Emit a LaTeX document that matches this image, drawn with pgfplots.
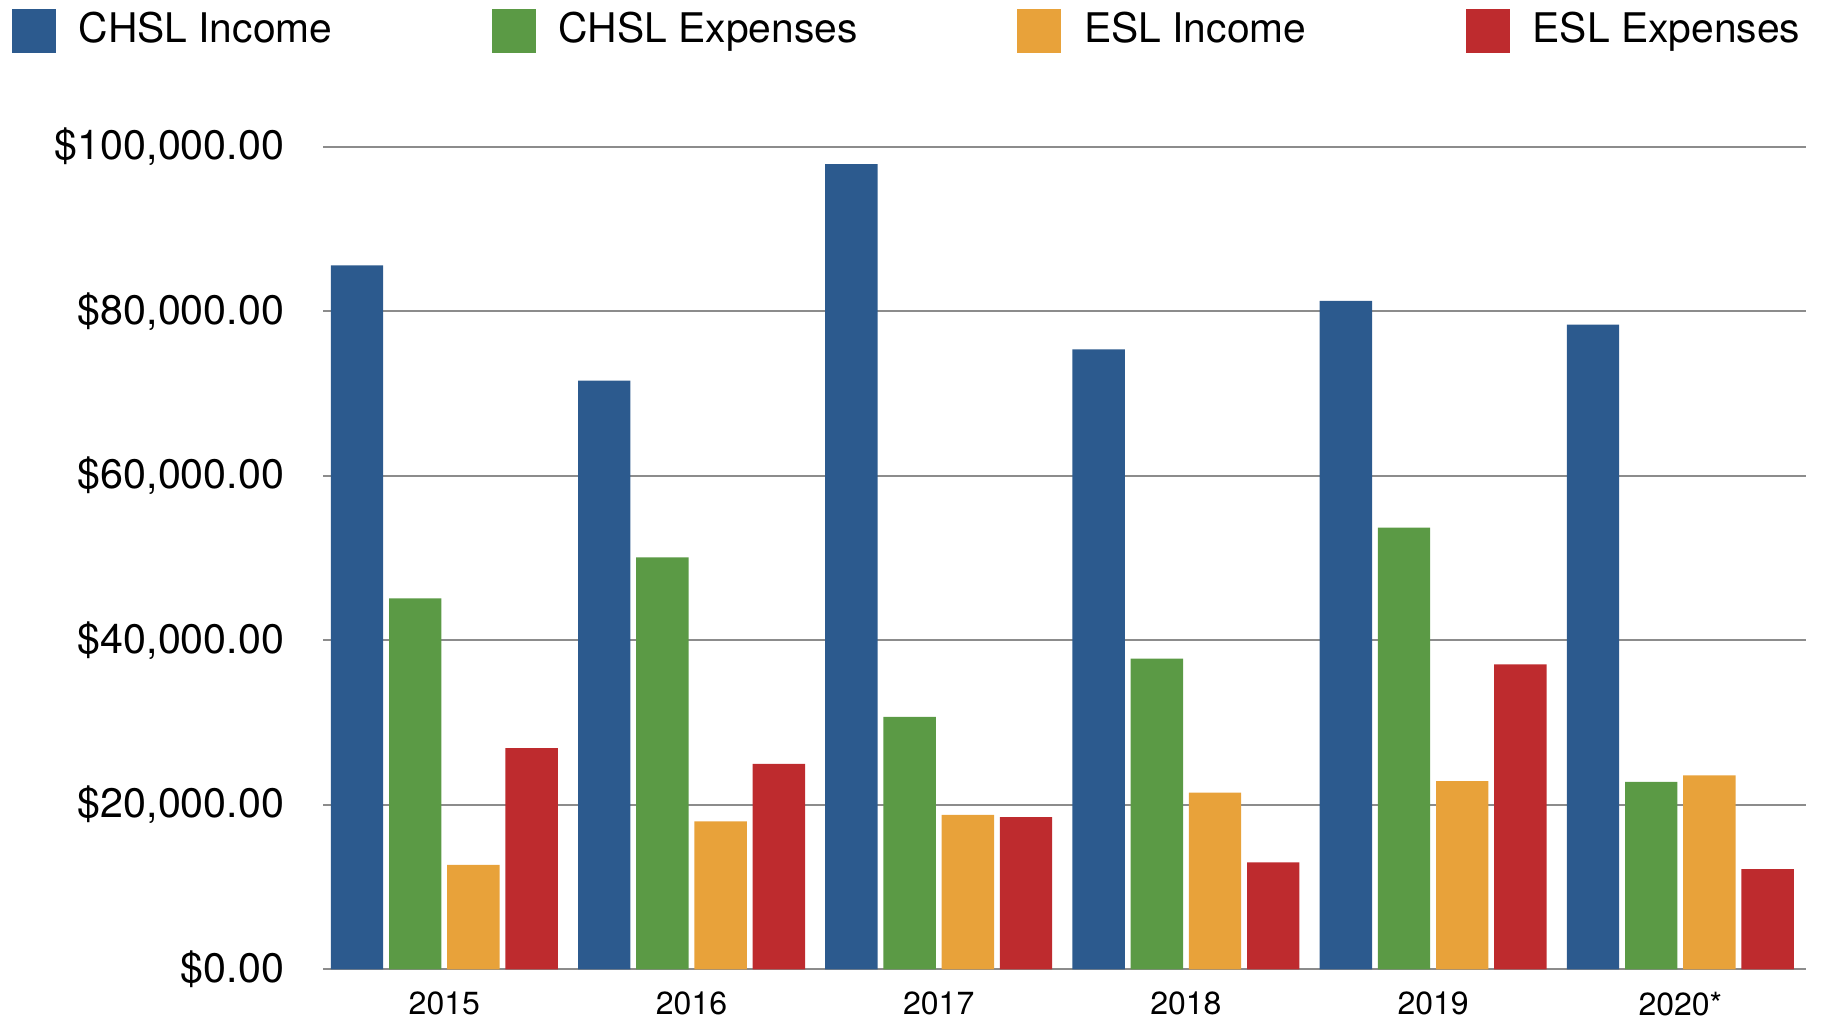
\documentclass[border=0pt]{standalone}
\usepackage{pgfplots}
\pgfplotsset{compat=1.18}
\usepackage{fontspec}
\setmainfont{TeX Gyre Heros}

\definecolor{chslinc}{RGB}{44,90,142}
\definecolor{chslexp}{RGB}{91,154,69}
\definecolor{eslinc}{RGB}{232,162,58}
\definecolor{eslexp}{RGB}{190,43,46}

\pgfplotsset{
  sqlegend/.style={legend image code/.code={\fill[##1] (0pt,-5.5pt) rectangle (11pt,5.5pt);}},
}

\begin{document}
\begin{tikzpicture}
\begin{axis}[
  name=main,
  scale only axis,
  width=370.8pt, height=205.6pt,
  ybar=1.45pt, bar width=13.1pt,
  xmin=-0.49, xmax=5.51,
  ymin=0, ymax=100000,
  enlargelimits=false,
  xtick={0,...,5},
  xticklabels={2015,2016,2017,2018,2019,2020*},
  ytick={0,20000,40000,60000,80000,100000},
  yticklabels={\$0.00,{\$20,000.00},{\$40,000.00},{\$60,000.00},{\$80,000.00},{\$100,000.00}},
  scaled y ticks=false,
  axis line style={draw=none},
  tick style={draw=none},
  ymajorgrids,
  major grid style={black!45, line width=0.5pt},
  extra y ticks={0},
  extra y tick labels={},
  extra y tick style={grid style={black!65, line width=0.8pt}},
  yticklabel style={anchor=east, inner sep=0pt, xshift=-9.6pt, font=\fontsize{10.3}{12}\selectfont},
  xticklabel style={anchor=north, inner sep=0pt, yshift=-1.2pt, font=\fontsize{8}{10}\selectfont},
  legend style={at={(-0.210,1.1415)}, anchor=west, draw=none, fill=none,
    inner sep=0pt, outer sep=0pt, legend columns=4,
    nodes={inner sep=0pt},
    /tikz/every odd column/.append style={column sep=5.8pt},
    /tikz/every even column/.append style={column sep=39.8pt},
    font=\fontsize{10.2}{12}\selectfont},
]
\addplot[fill=chslinc, draw=none, sqlegend] coordinates {(0,85600) (1,71600) (2,97900) (3,75400) (4,81300) (5,78400)};
\addplot[fill=chslexp, draw=none, sqlegend] coordinates {(0,45100) (1,50100) (2,30700) (3,37800) (4,53700) (5,22800)};
\addplot[fill=eslinc, draw=none, sqlegend] coordinates {(0,12700) (1,18000) (2,18800) (3,21500) (4,22900) (5,23600)};
\addplot[fill=eslexp, draw=none, sqlegend] coordinates {(0,26900) (1,25000) (2,18500) (3,13000) (4,37100) (5,12200)};
\legend{CHSL Income,CHSL Expenses,ESL Income,ESL Expenses}
\end{axis}
\path (main.south west) ++(-80.8pt,-13.4pt) rectangle ++(456pt,255.75pt);
\end{tikzpicture}
\end{document}
